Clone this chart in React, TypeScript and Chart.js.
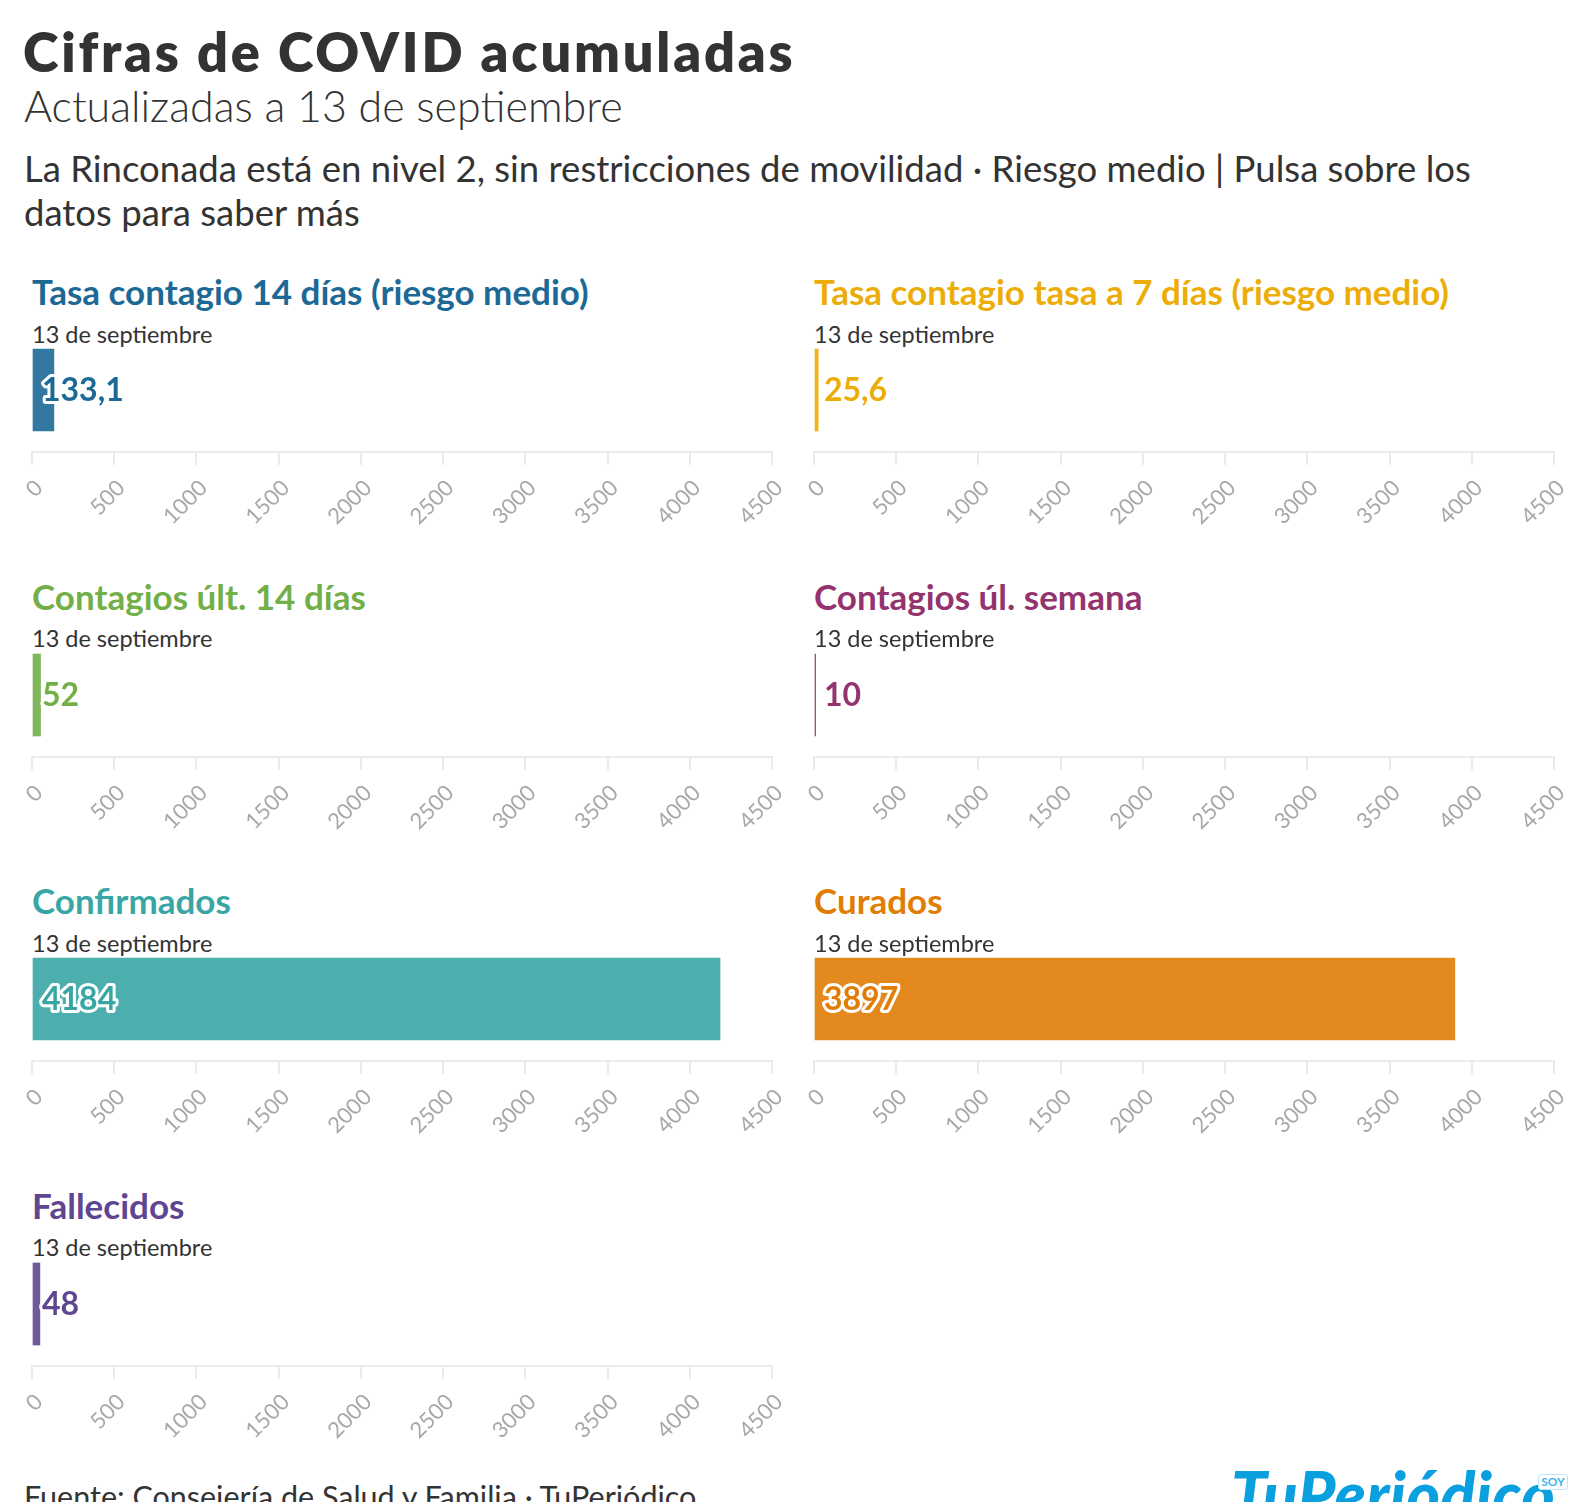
import React, { useEffect, useRef } from "react";
import { Chart, registerables } from "chart.js";

Chart.register(...registerables);

// ---- data ----
const categories = ["13 de septiembre"];
const panelTitles = [
  "Tasa contagio 14 días (riesgo medio)",
  "Tasa contagio tasa a 7 días (riesgo medio)",
  "Contagios últ. 14 días",
  "Contagios úl. semana",
  "Confirmados",
  "Curados",
  "Fallecidos",
];
const panelValues = [133.1, 25.6, 52, 10, 4184, 3897, 48];
const panelColors = ["#1D6996", "#EDAD08", "#73AF48", "#94346E", "#38A6A5", "#E17C05", "#5F4690"];
const axisTicks = [0, 500, 1000, 1500, 2000, 2500, 3000, 3500, 4000, 4500];
const axisMin = 0;
const axisMax = 4500;

const FONT = "Lato, 'Noto Sans', sans-serif";

function hexToRgba(hex: string, a: number) {
  const n = parseInt(hex.slice(1), 16);
  return `rgba(${(n >> 16) & 255},${(n >> 8) & 255},${n & 255},${a})`;
}

function formatValue(v: number) {
  return String(v).replace(".", ",");
}

const PAD_L = 20;
const PAD_R = 30;
const AREA_W = 740;
const AREA_H = 124;
const AXIS_H = 80;

function BarPanel({ idx }: { idx: number }) {
  const ref = useRef<HTMLCanvasElement | null>(null);
  const col = idx % 2;
  const row = Math.floor(idx / 2);
  const axisY = 452 + row * 304.5;
  const chartLeft = col === 0 ? 32 : 814;
  const color = panelColors[idx];

  useEffect(() => {
    if (!ref.current) return;
    const labelPlugin = {
      id: "valueLabel",
      afterDatasetsDraw(chart: any) {
        const ctx = chart.ctx;
        const meta = chart.getDatasetMeta(0);
        meta.data.forEach((el: any, i: number) => {
          const v = chart.data.datasets[0].data[i] as number;
          const txt = formatValue(v);
          const p = el.getProps(["base", "y"], true);
          ctx.save();
          ctx.font = `bold 32px ${FONT}`;
          ctx.textBaseline = "middle";
          ctx.textAlign = "left";
          ctx.lineJoin = "round";
          ctx.lineWidth = 6;
          ctx.strokeStyle = "#ffffff";
          ctx.strokeText(txt, p.base + 9, p.y + 1);
          ctx.fillStyle = color;
          ctx.fillText(txt, p.base + 9, p.y + 1);
          ctx.restore();
        });
      },
    };
    const chart = new Chart(ref.current, {
      type: "bar",
      data: {
        labels: categories,
        datasets: [
          {
            data: [panelValues[idx]],
            backgroundColor: hexToRgba(color, 0.9),
            borderWidth: 0,
            barThickness: 82,
          },
        ],
      },
      options: {
        indexAxis: "y",
        animation: false,
        responsive: false,
        maintainAspectRatio: false,
        layout: { padding: { left: PAD_L, right: PAD_R, top: 0, bottom: 0 } },
        plugins: { legend: { display: false }, tooltip: { enabled: false } },
        scales: {
          y: { display: false },
          x: {
            type: "linear",
            position: "bottom",
            min: axisMin,
            max: axisMax,
            afterBuildTicks: (s: any) => {
              s.ticks = axisTicks.map((v) => ({ value: v }));
            },
            afterFit: (s: any) => {
              s.paddingLeft = 0;
              s.paddingRight = 0;
              s.height = AXIS_H;
            },
            border: { display: true, color: "#ebebeb", width: 2 },
            grid: {
              display: true,
              drawOnChartArea: false,
              drawTicks: true,
              tickLength: 13,
              color: "#ebebeb",
              lineWidth: 2,
            },
            ticks: {
              autoSkip: false,
              minRotation: 45,
              maxRotation: 45,
              padding: 10,
              labelOffset: 7,
              color: "#a8a8a8",
              font: { family: FONT, size: 22 },
              callback: (v: any) => String(v),
            },
          },
        },
      } as any,
      plugins: [labelPlugin],
    });
    return () => chart.destroy();
  }, [idx]);

  const w = AREA_W + PAD_L + PAD_R;
  const h = AREA_H + AXIS_H;
  return (
    <>
      <div
        style={{
          position: "absolute",
          left: chartLeft,
          top: axisY - 178,
          font: `700 35px/35px ${FONT}`,
          color,
          whiteSpace: "nowrap",
        }}
      >
        {panelTitles[idx]}
      </div>
      <div
        style={{
          position: "absolute",
          left: chartLeft,
          top: axisY - 129.5,
          font: `400 23.5px/23px ${FONT}`,
          color: "#333",
          whiteSpace: "nowrap",
        }}
      >
        {categories[0]}
      </div>
      <canvas
        ref={ref}
        width={w}
        height={h}
        style={{
          position: "absolute",
          left: chartLeft - PAD_L,
          top: axisY - AREA_H,
          width: w,
          height: h,
        }}
      />
    </>
  );
}

export default function App() {
  return (
    <div
      style={{
        position: "absolute",
        left: 0,
        top: 0,
        width: 1592,
        height: 1502,
        overflow: "hidden",
        background: "#fff",
        fontFamily: FONT,
      }}
    >
      <div
        style={{
          position: "absolute",
          left: 23,
          top: 25,
          font: `800 54px/54px ${FONT}`,
          letterSpacing: 2.8,
          color: "#333",
          whiteSpace: "nowrap",
        }}
      >
        Cifras de COVID acumuladas
      </div>
      <div
        style={{
          position: "absolute",
          left: 24,
          top: 84,
          font: `300 43px/43px ${FONT}`,
          color: "#333",
          whiteSpace: "nowrap",
        }}
      >
        Actualizadas a 13 de septiembre
      </div>
      <div
        style={{
          position: "absolute",
          left: 24,
          top: 145.5,
          font: `400 36.5px/44.5px ${FONT}`,
          color: "#333",
          whiteSpace: "nowrap",
        }}
      >
        La Rinconada está en nivel 2, sin restricciones de movilidad · Riesgo medio | Pulsa sobre los
        <br />
        datos para saber más
      </div>

      {panelValues.map((_, i) => (
        <BarPanel key={i} idx={i} />
      ))}

      <div
        style={{
          position: "absolute",
          left: 24,
          top: 1481,
          font: `400 30.5px/31px ${FONT}`,
          color: "#333",
          whiteSpace: "nowrap",
        }}
      >
        Fuente: Consejería de Salud y Familia · TuPeriódico
      </div>
      <div
        style={{
          position: "absolute",
          left: 1231,
          top: 1462,
          font: `italic 900 64px/64px ${FONT}`,
          letterSpacing: 0.5,
          color: "#0aa0e0",
          whiteSpace: "nowrap",
        }}
      >
        TuPeriódico
      </div>
      <div
        style={{
          position: "absolute",
          left: 1538,
          top: 1474,
          width: 28,
          height: 14,
          border: "1px solid #bfe6f7",
          borderRadius: 3,
          background: "#fff",
          font: `700 12px/14px ${FONT}`,
          color: "#3db3e8",
          textAlign: "center",
        }}
      >
        SOY
      </div>
    </div>
  );
}
